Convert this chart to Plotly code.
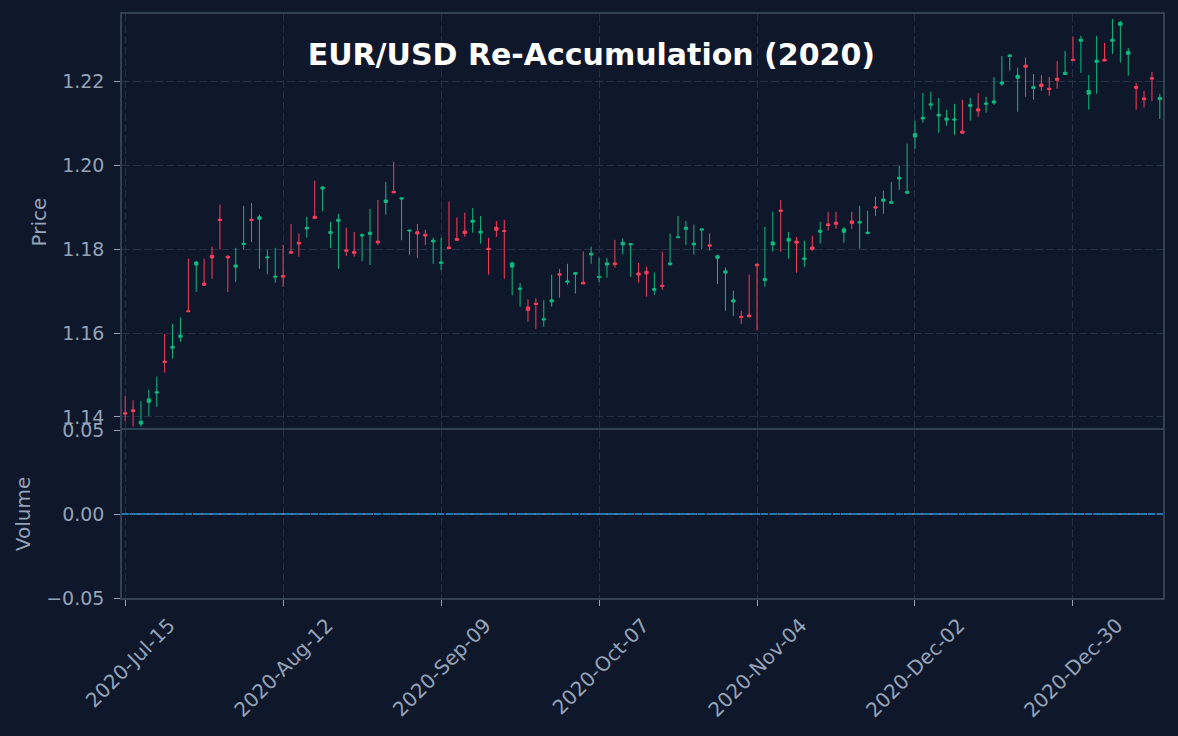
import pandas as pd
import plotly.graph_objects as go

# ---------------- data ----------------
dates = pd.bdate_range("2020-07-15", periods=132)
date_labels = [d.strftime("%Y-%m-%d") for d in dates]

open_ = [1.1410, 1.1417, 1.1383, 1.1435, 1.1457, 1.1533, 1.1564, 1.1590, 1.1653, 1.1762,
         1.1719, 1.1785, 1.1871, 1.1783, 1.1757, 1.1811, 1.1871, 1.1871, 1.1779, 1.1733,
         1.1737, 1.1794, 1.1816, 1.1848, 1.1878, 1.1943, 1.1837, 1.1866, 1.1798, 1.1794,
         1.1831, 1.1835, 1.1819, 1.1911, 1.1937, 1.1919, 1.1843, 1.1841, 1.1835, 1.1817,
         1.1766, 1.1805, 1.1825, 1.1843, 1.1864, 1.1838, 1.1802, 1.1852, 1.1844, 1.1757,
         1.1704, 1.1662, 1.1671, 1.1631, 1.1674, 1.1741, 1.1721, 1.1740, 1.1721, 1.1786,
         1.1732, 1.1762, 1.1767, 1.1810, 1.1810, 1.1743, 1.1747, 1.1702, 1.1714, 1.1763,
         1.1827, 1.1847, 1.1810, 1.1845, 1.1810, 1.1778, 1.1743, 1.1674, 1.1640, 1.1643,
         1.1764, 1.1725, 1.1810, 1.1893, 1.1819, 1.1819, 1.1775, 1.1805, 1.1840, 1.1860,
         1.1864, 1.1840, 1.1867, 1.1862, 1.1837, 1.1901, 1.1914, 1.1909, 1.1967, 1.1933,
         1.2067, 1.2110, 1.2143, 1.2117, 1.2107, 1.2107, 1.2081, 1.2140, 1.2134, 1.2145,
         1.2148, 1.2193, 1.2259, 1.2207, 1.2238, 1.2183, 1.2193, 1.2183, 1.2207, 1.2216,
         1.2252, 1.2295, 1.2169, 1.2245, 1.2252, 1.2295, 1.2333, 1.2264, 1.2187, 1.2160,
         1.2208, 1.2156]
high = [1.1450, 1.1440, 1.1438, 1.1465, 1.1496, 1.1598, 1.1622, 1.1637, 1.1777, 1.1772,
        1.1777, 1.1806, 1.1906, 1.1785, 1.1803, 1.1903, 1.1910, 1.1882, 1.1798, 1.1803,
        1.1810, 1.1860, 1.1837, 1.1877, 1.1963, 1.1950, 1.1865, 1.1884, 1.1851, 1.1841,
        1.1837, 1.1896, 1.1917, 1.1960, 1.2008, 1.1922, 1.1846, 1.1860, 1.1846, 1.1827,
        1.1827, 1.1913, 1.1875, 1.1887, 1.1898, 1.1879, 1.1827, 1.1867, 1.1870, 1.1770,
        1.1719, 1.1680, 1.1683, 1.1678, 1.1739, 1.1753, 1.1765, 1.1744, 1.1794, 1.1806,
        1.1779, 1.1779, 1.1822, 1.1825, 1.1813, 1.1767, 1.1758, 1.1744, 1.1794, 1.1837,
        1.1879, 1.1867, 1.1858, 1.1848, 1.1837, 1.1787, 1.1756, 1.1701, 1.1653, 1.1739,
        1.1765, 1.1853, 1.1889, 1.1917, 1.1841, 1.1829, 1.1820, 1.1832, 1.1865, 1.1889,
        1.1889, 1.1853, 1.1889, 1.1903, 1.1891, 1.1925, 1.1939, 1.1960, 1.1998, 1.2051,
        1.2106, 1.2172, 1.2175, 1.2160, 1.2132, 1.2146, 1.2156, 1.2160, 1.2172, 1.2163,
        1.2210, 1.2260, 1.2265, 1.2232, 1.2256, 1.2217, 1.2215, 1.2210, 1.2248, 1.2272,
        1.2306, 1.2308, 1.2215, 1.2308, 1.2291, 1.2348, 1.2344, 1.2279, 1.2196, 1.2177,
        1.2222, 1.2170]
low = [1.1390, 1.1377, 1.1377, 1.1402, 1.1424, 1.1506, 1.1539, 1.1579, 1.1651, 1.1698,
       1.1712, 1.1729, 1.1799, 1.1698, 1.1722, 1.1799, 1.1817, 1.1753, 1.1740, 1.1720,
       1.1710, 1.1790, 1.1782, 1.1827, 1.1872, 1.1890, 1.1802, 1.1753, 1.1784, 1.1782,
       1.1771, 1.1762, 1.1810, 1.1882, 1.1934, 1.1821, 1.1787, 1.1779, 1.1810, 1.1765,
       1.1750, 1.1801, 1.1820, 1.1829, 1.1839, 1.1813, 1.1739, 1.1829, 1.1729, 1.1690,
       1.1663, 1.1627, 1.1610, 1.1615, 1.1663, 1.1684, 1.1715, 1.1694, 1.1717, 1.1765,
       1.1722, 1.1732, 1.1756, 1.1787, 1.1734, 1.1720, 1.1687, 1.1691, 1.1703, 1.1760,
       1.1827, 1.1810, 1.1787, 1.1800, 1.1796, 1.1717, 1.1653, 1.1641, 1.1622, 1.1637,
       1.1606, 1.1710, 1.1794, 1.1794, 1.1777, 1.1744, 1.1758, 1.1796, 1.1813, 1.1844,
       1.1848, 1.1815, 1.1848, 1.1801, 1.1837, 1.1879, 1.1884, 1.1908, 1.1941, 1.1933,
       1.2039, 1.2101, 1.2132, 1.2077, 1.2094, 1.2072, 1.2076, 1.2106, 1.2115, 1.2125,
       1.2144, 1.2189, 1.2225, 1.2127, 1.2163, 1.2156, 1.2177, 1.2165, 1.2182, 1.2216,
       1.2249, 1.2220, 1.2132, 1.2170, 1.2248, 1.2265, 1.2244, 1.2213, 1.2132, 1.2137,
       1.2153, 1.2110]
close = [1.1407, 1.1413, 1.1390, 1.1443, 1.1460, 1.1530, 1.1568, 1.1595, 1.1651, 1.1769,
         1.1714, 1.1779, 1.1868, 1.1779, 1.1762, 1.1814, 1.1868, 1.1877, 1.1781, 1.1735,
         1.1733, 1.1790, 1.1812, 1.1852, 1.1873, 1.1948, 1.1842, 1.1871, 1.1795, 1.1790,
         1.1834, 1.1840, 1.1815, 1.1917, 1.1934, 1.1922, 1.1845, 1.1836, 1.1831, 1.1821,
         1.1769, 1.1801, 1.1821, 1.1837, 1.1869, 1.1843, 1.1799, 1.1845, 1.1842, 1.1767,
         1.1707, 1.1654, 1.1668, 1.1634, 1.1679, 1.1738, 1.1724, 1.1744, 1.1717, 1.1790,
         1.1735, 1.1767, 1.1763, 1.1816, 1.1813, 1.1738, 1.1741, 1.1706, 1.1711, 1.1767,
         1.1829, 1.1852, 1.1814, 1.1848, 1.1807, 1.1784, 1.1748, 1.1679, 1.1637, 1.1639,
         1.1760, 1.1730, 1.1817, 1.1890, 1.1825, 1.1814, 1.1779, 1.1799, 1.1845, 1.1856,
         1.1859, 1.1848, 1.1861, 1.1865, 1.1840, 1.1898, 1.1919, 1.1913, 1.1971, 1.1937,
         1.2075, 1.2114, 1.2146, 1.2121, 1.2112, 1.2110, 1.2076, 1.2144, 1.2129, 1.2148,
         1.2153, 1.2198, 1.2262, 1.2214, 1.2233, 1.2187, 1.2187, 1.2180, 1.2202, 1.2221,
         1.2249, 1.2300, 1.2178, 1.2250, 1.2248, 1.2300, 1.2340, 1.2271, 1.2183, 1.2156,
         1.2205, 1.2161]
volume = [0.0] * 132

tick_idx = [0, 20, 40, 60, 80, 100, 120]
tick_vals = [date_labels[i] for i in tick_idx]
tick_text = [dates[i].strftime("%Y-%b-%d") for i in tick_idx]

price_ticks = [1.14, 1.16, 1.18, 1.20, 1.22]
price_tick_text = ["1.14", "1.16", "1.18", "1.20", "1.22"]
vol_ticks = [-0.05, 0.0, 0.05]
vol_tick_text = ["\u22120.05", "0.00", "0.05"]

# ---------------- style ----------------
BG = "#0f172a"
SPINE = "#334155"
GRID = "#243045"
TXT = "#94a3b8"
UP = "#10b981"
DOWN = "#f43f5e"
FONT = "DejaVu Sans"

fig = go.Figure()
fig.add_trace(go.Candlestick(
    x=date_labels, open=open_, high=high, low=low, close=close,
    increasing=dict(line=dict(color=UP, width=1), fillcolor=UP),
    decreasing=dict(line=dict(color=DOWN, width=1), fillcolor=DOWN),
    whiskerwidth=0, xaxis="x", yaxis="y", showlegend=False,
))
fig.add_trace(go.Bar(
    x=date_labels, y=volume, marker_color="#1f77b4",
    xaxis="x2", yaxis="y2", showlegend=False,
))

fig.add_shape(type="line", xref="x2 domain", yref="y2", x0=0, x1=1, y0=0, y1=0,
              line=dict(color="#1f77b4", width=2, dash="7px,2px"))

h_split = 168 / 584

common_x = dict(
    type="category", range=[-0.4, 131.4],
    tickmode="array", tickvals=tick_vals,
    showgrid=True, gridcolor=GRID, gridwidth=1, griddash="8px,3px",
    showline=True, linecolor=SPINE, linewidth=1.5,
    zeroline=False, rangeslider=dict(visible=False), automargin=False,
)

fig.update_layout(
    width=1178, height=736,
    paper_bgcolor=BG, plot_bgcolor=BG,
    margin=dict(l=122, r=15, t=14, b=138, autoexpand=False),
    font=dict(family=FONT, color=TXT, size=19),
    showlegend=False,
    boxgap=0.4,
    title=dict(text="<b>EUR/USD Re-Accumulation (2020)</b>",
               font=dict(family=FONT, size=30, color="#ffffff"),
               xref="container", x=0.502, xanchor="center",
               yref="container", y=1 - 54 / 736, yanchor="middle",
               automargin=False),
    xaxis=dict(common_x, domain=[0, 1], anchor="y", side="top", mirror=False,
               showticklabels=False, ticks="", matches="x2"),
    xaxis2=dict(common_x, domain=[0, 1], anchor="y2", mirror=True, ticktext=tick_text,
                showticklabels=True, ticks="outside", ticklen=6, tickcolor=TXT,
                tickangle=-45, ticklabelshift=44, ticklabelstandoff=0,
                tickfont=dict(size=20, color=TXT)),
    yaxis=dict(domain=[h_split, 1], anchor="x", range=[1.1369, 1.2360],
               tickmode="array", tickvals=price_ticks, ticktext=price_tick_text,
               showgrid=True, gridcolor=GRID, gridwidth=1, griddash="8px,3px",
               showline=True, linecolor=SPINE, linewidth=1.5, mirror=True,
               zeroline=False, ticks="outside", ticklen=6, tickcolor=TXT,
               ticklabelstandoff=6, automargin=False,
               title=dict(text="Price", font=dict(size=20, color=TXT), standoff=10)),
    yaxis2=dict(domain=[0, h_split], anchor="x2", range=[-0.05, 0.05],
                tickmode="array", tickvals=vol_ticks, ticktext=vol_tick_text,
                showgrid=False,
                showline=True, linecolor=SPINE, linewidth=1.5, mirror=True,
                zeroline=False, ticks="outside", ticklen=6, tickcolor=TXT,
                ticklabelstandoff=6, automargin=False,
                title=dict(text="Volume", font=dict(size=20, color=TXT), standoff=10)),
)

fig.write_html("out.html")
